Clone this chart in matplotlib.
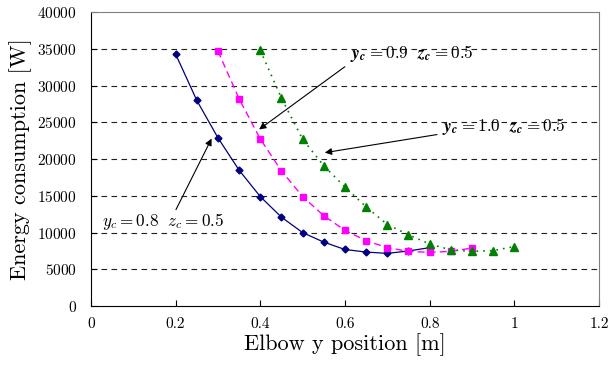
import matplotlib
matplotlib.use('Agg')
import matplotlib.pyplot as plt

plt.rcParams['font.family'] = 'serif'
plt.rcParams['font.serif'] = ['cmr10', 'DejaVu Serif']
plt.rcParams['mathtext.fontset'] = 'cm'
plt.rcParams['axes.formatter.use_mathtext'] = True

# y_c = 0.8
x_08 = [0.2, 0.25, 0.3, 0.35, 0.4, 0.45, 0.5, 0.55, 0.6, 0.65, 0.7, 0.75, 0.8]
e_08 = [34300, 28000, 22900, 18500, 14900, 12100, 10000, 8700, 7700, 7350, 7170, 7500, 7950]
# y_c = 0.9
x_09 = [0.3, 0.35, 0.4, 0.45, 0.5, 0.55, 0.6, 0.65, 0.7, 0.75, 0.8, 0.85, 0.9]
e_09 = [34700, 28200, 22750, 18400, 14900, 12300, 10300, 8900, 7950, 7450, 7300, 7450, 7900]
# y_c = 1.0
x_10 = [0.4, 0.45, 0.5, 0.55, 0.6, 0.65, 0.7, 0.75, 0.8, 0.85, 0.9, 0.95, 1.0]
e_10 = [34800, 28300, 22700, 19100, 16200, 13500, 11100, 9700, 8450, 7650, 7450, 7550, 8100]

xticks = [0, 0.2, 0.4, 0.6, 0.8, 1, 1.2]
xtick_labels = ['0', '0.2', '0.4', '0.6', '0.8', '1', '1.2']
yticks = list(range(0, 40001, 5000))

fig = plt.figure(figsize=(6.1, 3.67), dpi=100)
ax = fig.add_axes([0.149, 0.166, 0.833, 0.801])

# horizontal dashed gridlines (not at 0 or top)
for y in yticks[1:-1]:
    ax.axhline(y, color='#202020', lw=0.8, ls=(0, (5, 4)), zorder=0)

ax.plot(x_08, e_08, color='#000080', lw=0.9, marker='D', ms=3.5, zorder=3)
ax.plot(x_09, e_09, color='#FF00FF', lw=1.0, ls=(0, (5, 3)), marker='s', ms=5, zorder=3)
ax.plot(x_10, e_10, color='#008000', lw=1.2, ls=(0, (1, 3)), marker='^', ms=5.5, zorder=3)

ax.set_xlim(0, 1.2)
ax.set_ylim(0, 40000)
ax.set_xticks(xticks)
ax.set_xticklabels(xtick_labels)
ax.set_yticks(yticks)
ax.tick_params(direction='in', labelsize=11, length=4, pad=8)
ax.tick_params(axis='y', pad=10)
for s in ['top', 'right']:
    ax.spines[s].set_color('#808080')
ax.set_xlabel('Elbow y position [m]', fontsize=16, labelpad=2)
ax.set_ylabel('Energy consumption [W]', fontsize=16, labelpad=4)

arrow = dict(arrowstyle='-|>', color='black', lw=0.8, mutation_scale=10)
ax.text(0.612, 34400,
        r'$\mathbfit{y}_{\mathbfit{c}}\mathbf{=0.9}\ \ \mathbfit{z}_{\mathbfit{c}}\mathbf{=0.5}$',
        fontsize=12.3, va='center', ha='left')
ax.annotate('', xy=(0.392, 23810), xytext=(0.605, 32790), arrowprops=arrow)
ax.text(0.83, 24400,
        r'$\mathbfit{y}_{\mathbfit{c}}\mathbf{=1.0}\ \ \mathbfit{z}_{\mathbfit{c}}\mathbf{=0.5}$',
        fontsize=12.3, va='center', ha='left')
ax.annotate('', xy=(0.546, 20816), xytext=(0.824, 23400), arrowprops=arrow)
ax.text(0.026, 11500, r'$y_c=0.8\ \ z_c=0.5$', fontsize=12.3,
        va='center', ha='left')
ax.annotate('', xy=(0.288, 23129), xytext=(0.198, 12789), arrowprops=arrow)

fig.savefig('out.png', dpi=100)
